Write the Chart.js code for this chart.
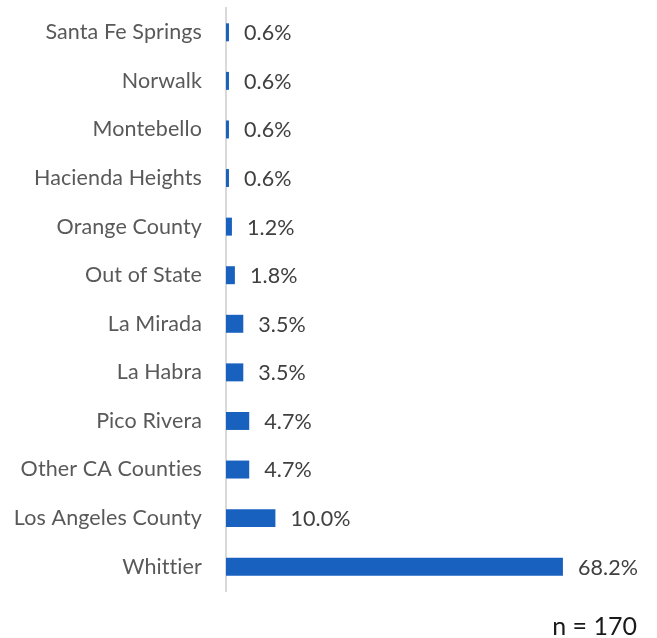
<!DOCTYPE html>
<html>
<head>
<meta charset="utf-8">
<script src="https://cdn.jsdelivr.net/npm/chart.js@4.4.0/dist/chart.umd.min.js"></script>
<style>
  html, body { margin: 0; padding: 0; background: #fff; }
  #wrap { position: relative; width: 657px; height: 638px; }
  #note { position: absolute; right: 20px; top: 610px; font-family: Lato, sans-serif; font-size: 25px; color: #1a1a1a; }
</style>
</head>
<body>
<div id="wrap">
  <canvas id="myChart" width="657" height="638"></canvas>
  <div id="note">n = 170</div>
</div>
<script>
// chart data, top to bottom
const places = ['Santa Fe Springs', 'Norwalk', 'Montebello', 'Hacienda Heights', 'Orange County',
    'Out of State', 'La Mirada', 'La Habra', 'Pico Rivera', 'Other CA Counties',
    'Los Angeles County', 'Whittier'];
const shares = [0.6, 0.6, 0.6, 0.6, 1.2, 1.8, 3.5, 3.5, 4.7, 4.7, 10.0, 68.2];

// keeps Lato from joining "ti" into a ligature
const noLigatures = {
    id: 'noLigatures',
    beforeDraw(chart) {
        chart.ctx.letterSpacing = '0.1px';
    }
};

// draws the value at the end of each bar
const valueLabels = {
    id: 'valueLabels',
    afterDatasetsDraw(chart) {
        const ctx = chart.ctx;
        const meta = chart.getDatasetMeta(0);
        ctx.save();
        ctx.font = '21.5px Lato, sans-serif';
        ctx.fillStyle = '#404040';
        ctx.textBaseline = 'middle';
        meta.data.forEach((bar, i) => {
            ctx.fillText(shares[i].toFixed(1) + '%', bar.x + 15, bar.y + 1);
        });
        ctx.restore();
    }
};

const config = {
    type: 'bar',
    data: {
        labels: places,
        datasets: [{
            data: shares,
            backgroundColor: '#1861bf',
            barPercentage: 0.37,
            categoryPercentage: 1.0
        }]
    },
    options: {
        indexAxis: 'y',
        responsive: false,
        animation: false,
        layout: { padding: { top: 8, right: 17, bottom: 47, left: 0 } },
        scales: {
            x: {
                display: false,
                min: 0,
                max: 83.8
            },
            y: {
                afterFit: function (scale) {
                    scale.width = 226;
                    scale.paddingTop = 0;
                    scale.paddingBottom = 0;
                },
                grid: { display: false },
                border: { display: true, color: '#d9d9d9', width: 2 },
                ticks: {
                    color: '#595959',
                    padding: 16,
                    font: { family: 'Lato, sans-serif', size: 21.5 }
                }
            }
        },
        plugins: {
            legend: { display: false },
            tooltip: { enabled: false }
        }
    },
    plugins: [noLigatures, valueLabels]
};

const ctx = document.getElementById('myChart').getContext('2d');
new Chart(ctx, config);
</script>
</body>
</html>
